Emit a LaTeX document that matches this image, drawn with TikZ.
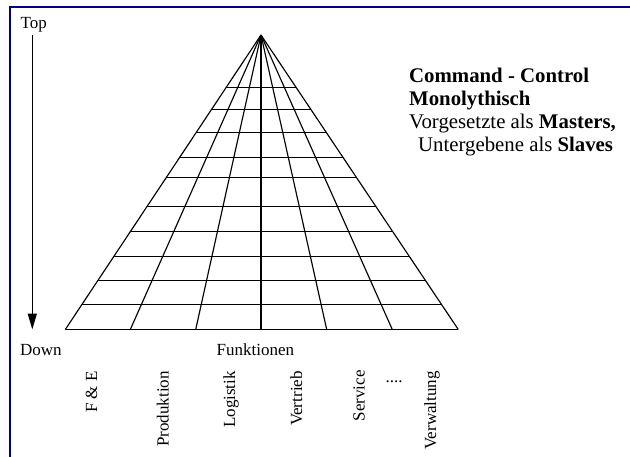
\documentclass[tikz,border=0pt]{standalone}
\usepackage{fontspec}
\setmainfont{Liberation Serif}
\usetikzlibrary{arrows.meta,calc}
\definecolor{framenavy}{RGB}{0,0,128}
\begin{document}
\begin{tikzpicture}[x=1pt,y=-1pt,
  grid/.style={line width=1.15pt, black},
  lbl/.style={inner sep=0pt, font=\fontsize{17}{20}\selectfont},
  func/.style={lbl, rotate=90, anchor=base east},
  headline/.style={inner sep=0pt, anchor=base west, font=\fontsize{20.8}{24}\selectfont},
]
\useasboundingbox (0,0) rectangle (630,456);
\fill[white] (0,0) rectangle (630,456);

% frame (only its top and left sides fall on the page)
\draw[framenavy, line width=2.2pt] (632,6.8) -- (10.2,6.8) -- (10.2,458);

% pyramid: apex and the seven foot points of the fan
\coordinate (apex) at (261,35);
\coordinate (b0) at (65.3,329.5);
\coordinate (b1) at (130.3,329.5);
\coordinate (b2) at (195.7,329.5);
\coordinate (b3) at (261,329.5);
\coordinate (b4) at (326.7,329.5);
\coordinate (b5) at (392.3,329.5);
\coordinate (b6) at (458.3,329.5);

\foreach \i in {0,...,6} \draw[grid] (apex) -- (b\i);
\foreach \t in {0.1769,0.2517,0.3299,0.4150,0.4840,0.5830,0.6667,0.7534,0.8344,0.9160,1}
  \draw[grid] ($(apex)!\t!(b0)$) -- ($(apex)!\t!(b6)$);

% hierarchy arrow
\node[lbl, anchor=base west] (top) at (20.5,28) {Top};
\node[lbl, anchor=base west] (down) at (20,355) {Down};
\coordinate (arrowstart) at (32.3,35);
\coordinate (arrowend) at (32.3,329.5);
\draw[line width=1.3pt, -{Triangle[length=16pt,width=9pt]}] (arrowstart) -- (arrowend);

% functions along the base
\node[lbl, anchor=base west] (funktionen) at (216.5,355) {Funktionen};
\node[func] (fe) at (97,371) {F \& E};
\node[func] (produktion) at (168.5,371) {Produktion};
\node[func] (logistik) at (235,371) {Logistik};
\node[func] (vertrieb) at (302,371) {Vertrieb};
\node[func] (service) at (364.5,370) {Service};
\node[lbl, anchor=base west] (dots) at (385.5,382) {....};
\node[func] (verwaltung) at (436,371) {Verwaltung};

% description
\node[headline] (h1) at (409,82) {\textbf{Command - Control}};
\node[headline] (h2) at (409,105) {\textbf{Monolythisch}};
\node[headline] (h3) at (409,128) {Vorgesetzte als \textbf{Masters,}};
\node[headline] (h4) at (418,151.5) {Untergebene als \textbf{Slaves}};
\end{tikzpicture}
\end{document}
